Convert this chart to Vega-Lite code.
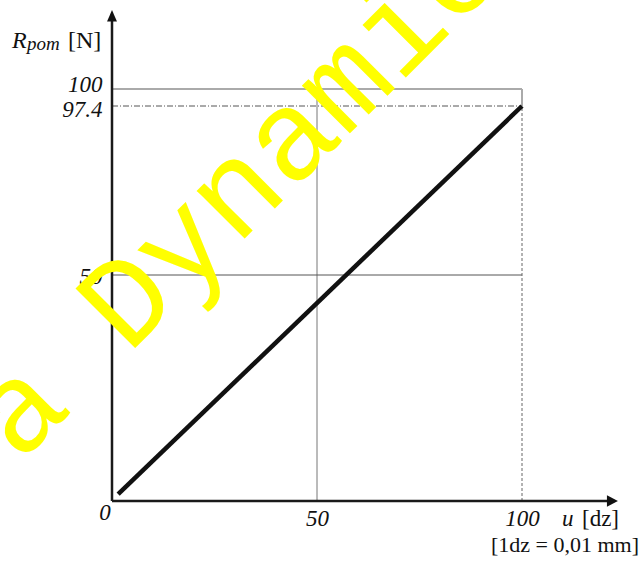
{
  "$schema": "https://vega.github.io/schema/vega-lite/v6.json",
  "width": 410,
  "height": 412,
  "autosize": {"type": "none"},
  "padding": {"left": 112, "top": 89, "right": 118, "bottom": 61},
  "background": "white",
  "config": {"view": {"stroke": null}},
  "layer": [
    {
      "data": {"values": [{}]},
      "mark": {"type": "rule", "color": "#777", "strokeWidth": 1},
      "encoding": {"x": {"datum": 50, "type": "quantitative"}, "y": {"datum": 0, "type": "quantitative"}, "y2": {"datum": 100}}
    },
    {
      "data": {"values": [{}]},
      "mark": {"type": "rule", "color": "#555", "strokeWidth": 1},
      "encoding": {"y": {"datum": 50, "type": "quantitative"}, "x": {"datum": 0, "type": "quantitative"}, "x2": {"datum": 100}}
    },
    {
      "data": {"values": [{}]},
      "mark": {"type": "rule", "color": "#aaa", "strokeWidth": 2},
      "encoding": {"y": {"datum": 100, "type": "quantitative"}, "x": {"datum": 0, "type": "quantitative"}, "x2": {"datum": 100}}
    },
    {
      "data": {"values": [{}]},
      "mark": {"type": "rule", "color": "#555", "strokeWidth": 1, "strokeDash": [6, 2, 1, 2]},
      "encoding": {"y": {"datum": 97.4, "type": "quantitative"}, "x": {"datum": 0, "type": "quantitative"}, "x2": {"datum": 100}}
    },
    {
      "data": {"values": [{}]},
      "mark": {"type": "rule", "color": "#aaa", "strokeWidth": 2},
      "encoding": {"x": {"datum": 100, "type": "quantitative"}, "y": {"datum": 97.4, "type": "quantitative"}, "y2": {"datum": 100}}
    },
    {
      "data": {"values": [{}]},
      "mark": {"type": "rule", "color": "#666", "strokeWidth": 1, "strokeDash": [3, 2]},
      "encoding": {"x": {"datum": 100, "type": "quantitative"}, "y": {"datum": 0, "type": "quantitative"}, "y2": {"datum": 97.4}}
    },
    {
      "data": {"values": [{"u": 1.5, "R": 1.5}, {"u": 100, "R": 97.4}]},
      "mark": {"type": "line", "color": "#111", "strokeWidth": 4.5, "strokeCap": "butt"},
      "encoding": {
        "x": {
          "field": "u", "type": "quantitative",
          "scale": {"domain": [0, 100], "range": [0, 410], "nice": false, "zero": false},
          "axis": {
            "title": null, "domain": false, "ticks": false, "grid": false,
            "values": [50, 100], "labelPadding": 6,
            "labelFont": "Liberation Serif", "labelFontStyle": "italic", "labelFontSize": 23,
            "labelColor": "#111", "labelFlush": false, "labelOverlap": false, "labelBound": false
          }
        },
        "y": {
          "field": "R", "type": "quantitative",
          "scale": {"domain": [0, 50, 97.4, 100], "range": [412, 186, 17, 0], "nice": false, "zero": false},
          "axis": {
            "title": null, "domain": false, "ticks": false, "grid": false,
            "values": [50, 97.4, 100], "labelPadding": 10,
            "labelExpr": "toString(datum.value)",
            "labelOffset": {"condition": [{"test": "datum.value == 100", "value": -5}, {"test": "datum.value == 97.4", "value": 3}], "value": 1},
            "labelFont": "Liberation Serif", "labelFontStyle": "italic", "labelFontSize": 23,
            "labelColor": "#111", "labelFlush": false, "labelOverlap": false, "labelBound": false
          }
        }
      }
    },
    {
      "data": {"values": [{}]},
      "mark": {"type": "rule", "color": "#1a1a1a", "strokeWidth": 2.5},
      "encoding": {"y": {"datum": 0, "type": "quantitative"}, "x": {"datum": 0, "type": "quantitative"}, "x2": {"datum": 121}}
    },
    {
      "data": {"values": [{}]},
      "mark": {"type": "rule", "color": "#1a1a1a", "strokeWidth": 2.5},
      "encoding": {"x": {"datum": 0, "type": "quantitative"}, "y": {"datum": 0, "type": "quantitative"}, "y2": {"datum": 110.5}}
    },
    {
      "data": {"values": [{}]},
      "mark": {"type": "point", "shape": "M0,0L-2,-1.05L-2,1.05Z", "filled": true, "color": "#111", "size": 121, "opacity": 1},
      "encoding": {"x": {"datum": 123.4, "type": "quantitative"}, "y": {"datum": 0, "type": "quantitative"}}
    },
    {
      "data": {"values": [{}]},
      "mark": {"type": "point", "shape": "M0,0L-0.9,2.1L0.9,2.1Z", "filled": true, "color": "#111", "size": 121, "opacity": 1},
      "encoding": {"x": {"datum": 0, "type": "quantitative"}, "y": {"datum": 112.1, "type": "quantitative"}}
    },
    {
      "data": {"values": [{}]},
      "mark": {"type": "text", "text": "0", "font": "Liberation Serif", "fontStyle": "italic", "fontSize": 23, "color": "#111", "align": "center", "baseline": "alphabetic", "dx": -7, "dy": 19},
      "encoding": {"x": {"datum": 0, "type": "quantitative"}, "y": {"datum": 0, "type": "quantitative"}}
    },
    {
      "data": {"values": [{}]},
      "mark": {"type": "text", "text": "u", "font": "Liberation Serif", "fontStyle": "italic", "fontSize": 23, "color": "#111", "align": "left", "baseline": "alphabetic", "dx": 40, "dy": 25},
      "encoding": {"x": {"datum": 100, "type": "quantitative"}, "y": {"datum": 0, "type": "quantitative"}}
    },
    {
      "data": {"values": [{}]},
      "mark": {"type": "text", "text": "[dz]", "font": "Liberation Serif", "fontSize": 23, "color": "#111", "align": "left", "baseline": "alphabetic", "dx": 60, "dy": 25},
      "encoding": {"x": {"datum": 100, "type": "quantitative"}, "y": {"datum": 0, "type": "quantitative"}}
    },
    {
      "data": {"values": [{}]},
      "mark": {"type": "text", "text": "[1dz = 0,01 mm]", "font": "Liberation Serif", "fontSize": 22, "color": "#111", "align": "right", "baseline": "alphabetic", "dx": 117, "dy": 51},
      "encoding": {"x": {"datum": 100, "type": "quantitative"}, "y": {"datum": 0, "type": "quantitative"}}
    },
    {
      "data": {"values": [{}]},
      "mark": {"type": "text", "text": "R", "font": "Liberation Serif", "fontStyle": "italic", "fontSize": 24, "color": "#111", "align": "left", "baseline": "alphabetic", "dx": -100, "dy": -41},
      "encoding": {"x": {"datum": 0, "type": "quantitative"}, "y": {"datum": 100, "type": "quantitative"}}
    },
    {
      "data": {"values": [{}]},
      "mark": {"type": "text", "text": "pom", "font": "Liberation Serif", "fontStyle": "italic", "fontSize": 19, "color": "#111", "align": "left", "baseline": "alphabetic", "dx": -85, "dy": -39},
      "encoding": {"x": {"datum": 0, "type": "quantitative"}, "y": {"datum": 100, "type": "quantitative"}}
    },
    {
      "data": {"values": [{}]},
      "mark": {"type": "text", "text": "[N]", "font": "Liberation Serif", "fontSize": 24, "color": "#111", "align": "left", "baseline": "alphabetic", "dx": -44, "dy": -41},
      "encoding": {"x": {"datum": 0, "type": "quantitative"}, "y": {"datum": 100, "type": "quantitative"}}
    },
    {
      "data": {"values": [{}]},
      "mark": {"type": "text", "text": "a Dynamics", "font": "Liberation Mono", "fontSize": 128, "color": "#FFFF00", "align": "left", "baseline": "alphabetic", "angle": -45},
      "encoding": {"x": {"datum": -22.6, "type": "quantitative"}, "y": {"datum": 8.2, "type": "quantitative"}}
    }
  ]
}
